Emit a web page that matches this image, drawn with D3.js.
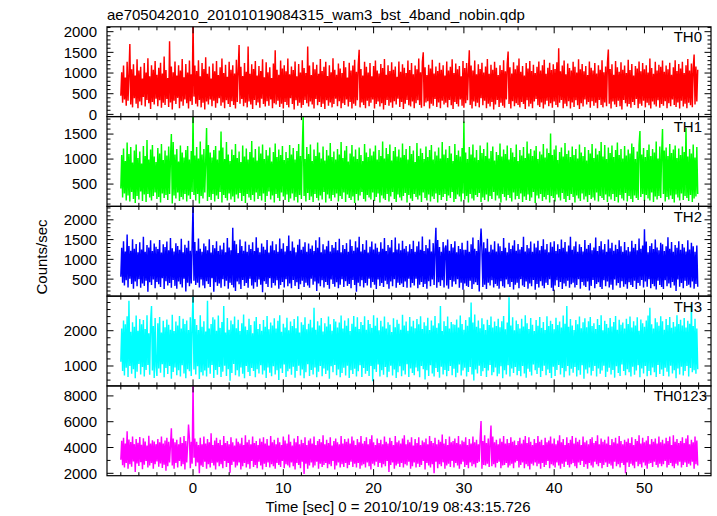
<!DOCTYPE html>
<html><head><meta charset="utf-8">
<script src="https://cdn.jsdelivr.net/npm/d3@7"></script>
<style>body{margin:0;background:#fff} svg{display:block} text{font-family:"Liberation Sans",Arial,Helvetica,sans-serif;fill:#000}</style>
</head><body><svg id="c" width="717" height="516"></svg>
<script>
// ---------------- data ----------------
const title = "ae705042010_20101019084315_wam3_bst_4band_nobin.qdp";
const xLabel = "Time [sec] 0 = 2010/10/19 08:43:15.726";
const yLabel = "Counts/sec";
const bandNames = ["TH0", "TH1", "TH2", "TH3", "TH0123"];
const tStart = -8, tStep = 0.1;           // time of first sample and sample spacing [sec]
const xTickMajor = [0, 10, 20, 30, 40, 50];
const yTickLabels = [
  [0, 500, 1000, 1500, 2000],
  [500, 1000, 1500],
  [500, 1000, 1500, 2000],
  [1000, 2000],
  [2000, 4000, 6000, 8000]
];
const yDomains = [[-53, 2118], [54, 1850], [70, 2340], [435, 2980], [1815, 8775]];
const yMinorStep = [100, 100, 100, 200, 1000];

const th0 = [
450,1020,280,1180,360,890,210,1270,330,960,1700,240,1090,170,1210,390,940,260,1330,150,
1060,310,1150,220,870,420,1240,190,1010,350,1360,270,920,130,1190,300,1080,240,1290,380,
960,200,1130,340,1250,160,990,280,1400,230,1070,370,880,180,1770,290,1160,120,1020,330,
1280,250,940,400,1190,150,1060,310,1340,210,900,360,1220,270,1010,140,1300,320,970,230,
2300,430,1180,260,1050,190,1310,350,920,170,1240,280,1100,120,1380,310,980,240,1160,360,
870,200,1230,330,1040,160,1290,270,950,390,1140,210,1350,290,1000,150,1200,340,910,250,
1270,180,1080,320,1190,230,990,140,1320,300,1060,1680,260,1150,370,930,200,1240,280,1030,
170,1640,310,980,240,1210,130,1100,350,1290,220,940,290,1170,160,1050,380,1330,250,900,
190,1260,320,1020,210,1140,360,880,150,1230,270,1550,240,1080,330,960,180,1300,260,1110,
140,1190,300,1040,230,1350,170,970,390,1160,250,1070,120,1280,340,920,210,1220,280,1010,
160,1310,230,1120,350,1000,270,1640,190,1180,310,950,240,1260,140,1090,370,1200,220,980,
300,1340,180,1050,260,1150,130,1270,340,930,210,1190,290,1020,170,1360,250,1080,380,960,
200,1230,320,1110,150,1000,270,1290,230,1140,360,890,190,1250,300,1060,140,1180,260,1320,
210,1030,340,1200,1560,170,1100,290,940,230,1270,150,1150,330,1010,200,1240,280,920,360,
1170,140,1300,250,1060,310,990,190,1220,270,1120,120,1340,230,960,350,1190,210,1050,290,
1260,160,1080,320,1160,240,910,380,1280,180,1030,300,1210,130,1130,260,1000,350,1300,220,
1070,190,1240,310,970,150,1180,270,1090,340,1350,230,1020,160,1270,1500,200,1140,290,950,
320,1200,140,1110,260,1320,210,990,370,1160,180,1050,290,1250,150,1080,330,1190,240,940,
280,1280,170,1060,350,1150,220,1330,130,1000,300,1230,250,1090,190,1170,360,920,210,1290,
160,1120,270,1240,340,1030,1550,230,1180,140,1060,310,1300,200,970,280,1210,170,1100,390,
1250,220,1010,330,1160,150,1340,260,980,190,1200,300,1080,120,1270,240,1130,350,950,180,
1190,280,1070,210,1310,160,1040,360,1220,1520,250,1140,140,990,320,1260,200,1090,270,1180,
230,1350,170,1030,300,1170,250,940,130,1240,340,1110,190,1290,260,1050,150,1200,310,1000,
370,1150,220,1280,180,1060,290,1190,140,1320,240,980,330,1130,200,1250,270,1070,160,1210,
310,1100,230,1260,170,1600,280,1040,350,1180,150,1300,260,970,200,1230,320,1120,140,1060,
290,1270,180,1150,340,1010,220,1330,130,1090,270,1220,190,1040,360,1170,240,950,300,1280,
160,1130,320,1060,210,1240,280,990,150,1190,350,1080,230,1310,170,1020,290,1160,200,1250,
1570,260,1100,140,1210,310,960,240,1290,180,1140,330,1030,200,1260,120,1080,350,1180,270,
1000,190,1320,250,1070,160,1220,300,940,230,1170,370,1110,150,1280,260,1040,210,1240,330,
1090,170,1190,280,1010,220,1350,140,1120,310,980,240,1270,190,1060,340,1200,160,1150,250,
1300,210,1030,320,1180,150,1090,270,1250,200,960,360,1140,230,1310,180,1050,290,1220,140,
1110,330,1270,190,1000,260,1190,150,1340,280,1060,220,1230,170,1120,1450,240,1160,310,1080
];
const th1 = [
410,1080,230,1210,310,960,170,1330,270,1100,150,1240,340,930,200,1170,120,1290,260,1020,
190,1150,350,910,160,1260,290,1060,140,1380,300,990,230,1190,170,1280,260,1050,330,940,
200,1220,240,1110,130,1300,310,980,220,1170,280,1070,180,1250,300,1010,1500,110,1340,270,
1090,210,1200,330,950,160,1270,240,1130,190,1030,300,1180,150,1260,270,990,200,1160,340,
1900,280,1070,170,1240,300,1010,110,1350,260,1090,210,1200,330,950,1620,160,1280,240,1130,
180,1030,300,1180,150,1260,270,990,200,1170,340,1550,130,1230,280,1000,220,1340,170,1090,
310,960,190,1190,250,1080,140,1300,290,1020,210,1150,320,940,160,1270,260,1050,120,1210,
300,990,230,1140,180,1360,280,1030,150,1200,330,970,200,1250,260,1110,170,1290,310,1000,
140,1180,260,1070,350,1230,190,950,270,1140,130,1310,300,1040,220,1190,160,1080,330,1260,
250,980,180,1140,290,1020,140,1280,210,1090,310,1220,170,990,240,1160,130,1300,280,1060,
200,1170,1880,260,1000,150,1240,320,1100,180,1290,250,960,140,1190,300,1060,220,1330,170,
1130,270,1010,190,1250,340,970,130,1180,290,1070,210,1320,160,1040,280,1150,230,990,310,
1200,150,1090,260,1340,200,1020,330,1170,140,1260,290,950,220,1110,180,1280,250,1050,120,
1190,300,1000,170,1230,270,1080,340,960,200,1300,150,1130,280,1040,230,1210,190,1070,330,
1150,160,1270,240,990,310,1180,130,1060,270,1350,210,1010,180,1220,300,1100,150,1290,250,
970,340,1160,200,1240,140,1050,290,1190,230,1030,170,1310,260,1080,320,1200,130,990,280,
1260,210,1100,160,1170,300,940,240,1320,190,1060,270,1210,140,1120,330,1000,220,1250,170,
1040,290,1180,150,1280,250,990,200,1150,310,1070,130,1230,280,1010,180,1340,240,1090,300,
1190,160,1020,270,1260,220,1110,340,960,140,1300,200,1080,290,1170,250,1050,150,1220,310,
1750,190,1130,260,1000,130,1240,300,1090,210,1290,170,1030,280,1180,240,980,320,1270,140,
1120,230,1200,180,1060,290,1330,150,1010,260,1160,200,1250,340,970,170,1140,270,1080,210,
1310,130,1050,300,1190,240,1100,170,1270,280,990,220,1220,150,1130,330,1040,190,1290,260,
960,200,1180,310,1070,140,1240,250,1020,180,1350,290,1110,160,1200,230,1060,340,1170,120,
1260,270,1000,210,1150,300,1090,160,1300,240,1030,190,1210,280,1120,130,1510,260,1080,220,
1190,150,1270,290,980,230,1140,170,1230,320,1050,200,1320,140,1100,260,1170,180,1040,300,
1250,240,1080,130,1200,270,1010,210,1290,160,1130,310,1060,190,1240,250,970,140,1180,280,
1110,200,1300,230,1020,170,1210,330,1090,150,1160,260,1340,220,1050,180,1280,290,1000,140,
1230,250,1120,190,1270,300,1040,160,1180,240,1330,130,1080,280,1200,210,1010,170,1260,320,
1070,150,1190,260,1110,200,1310,140,1240,270,1000,220,1150,180,1280,1560,240,1090,300,1220,
160,1040,280,1180,210,1290,170,1060,330,1200,140,1130,250,1350,190,1010,260,1250,220,1090,
1600,300,1170,150,1230,240,1060,190,1300,270,1120,200,1190,130,1270,290,1020,230,1210,170,
1080,310,1250,180,1140,260,1620,220,1050,160,1200,280,1110,140,1290,210,1030,250,1240,300
];
const th2 = [
560,1290,410,1460,340,1200,470,1630,290,1340,510,1220,380,1510,260,1270,440,1390,320,1180,
500,1430,280,1250,390,1570,330,1190,460,1360,180,1300,420,1480,350,1210,490,1400,270,1320,
430,1260,370,1490,300,1170,520,1380,250,1310,450,1450,340,1230,400,1540,280,1280,480,1200,
330,1410,260,1340,440,1240,370,1520,290,1180,510,1370,190,1290,410,1470,320,1220,390,1350,
2400,460,1440,350,1220,410,1530,290,1270,490,1190,340,1400,270,1330,450,1230,380,1510,300,
1170,520,1360,180,1280,420,1460,330,1210,390,1350,280,1250,500,1420,320,1180,460,1540,260,
1300,410,1230,350,1800,290,1470,200,1380,440,1160,370,1500,250,1340,480,1220,330,1450,400,
1190,280,1370,510,1260,340,1430,260,1210,420,1560,310,1290,490,1180,360,1400,170,1320,450,
1240,380,1490,300,1170,520,1350,280,1460,400,1230,340,1380,470,1190,260,1530,350,1270,430,
1410,290,1200,500,1340,320,1600,390,1220,270,1450,480,1300,330,1180,420,1370,250,1510,370,
1240,460,1320,300,1430,410,1190,340,1400,280,1270,510,1350,360,1210,440,1480,200,1290,390,
1560,320,1180,470,1380,290,1250,430,1330,350,1470,260,1200,490,1360,380,1290,310,1440,420,
1230,270,1520,360,1180,500,1360,300,1260,450,1410,330,1190,380,1500,270,1340,480,1220,350,
1460,180,1300,410,1570,320,1200,470,1390,290,1240,400,1480,340,1170,510,1320,280,1450,430,
1250,360,1400,250,1290,490,1190,330,1430,400,1270,300,1540,460,1210,370,1360,260,1300,440,
1490,320,1180,500,1550,280,1250,410,1400,350,1230,390,1470,300,1270,440,1340,280,1200,510,
1380,290,1260,400,1470,340,1190,510,1330,270,1450,360,1240,430,1580,300,1210,380,1360,260,
1280,450,1500,320,1200,490,1410,350,1250,1800,280,1490,420,1310,330,1190,470,1440,290,1270,
1350,340,1500,260,1220,480,1390,310,1300,440,1460,370,1180,500,1340,280,1260,410,1420,230,
1240,390,1240,330,1470,300,1190,460,1380,250,1550,370,1270,420,1210,350,1490,190,1310,1780,
1230,300,1430,360,1280,250,1520,410,1190,340,1370,470,1250,290,1460,380,1200,330,1400,260,
1330,450,1210,320,1540,280,1290,490,1180,370,1420,300,1260,430,1350,240,1480,360,1220,410,
1390,270,1250,500,1310,340,1570,300,1200,440,1360,260,1280,390,1450,320,1190,480,1400,230,
1300,380,1470,290,1230,450,1340,330,1510,270,1250,410,1390,350,1180,500,1430,280,1320,200,
1460,340,1210,470,1380,300,1260,430,1500,250,1290,390,1440,320,1200,460,1350,280,1570,370,
1240,410,1330,290,1450,350,1190,500,1380,260,1310,430,1200,340,1490,300,1270,440,1360,210,
1410,330,1230,480,1300,270,1550,380,1210,420,1340,300,1460,250,1250,470,1390,320,1190,440,
1500,290,1280,360,1420,230,1220,490,1370,340,1260,400,1480,280,1330,450,1190,310,1440,370,
1230,260,1310,420,1200,350,1470,300,1290,460,1390,250,1230,400,1530,330,1270,480,1350,290,
1760,440,1450,310,1180,500,1340,270,1410,380,1260,320,1500,240,1300,460,1230,350,1420,300,
1380,250,1210,470,1330,320,1560,390,1270,280,1440,430,1190,340,1360,200,1290,490,1460,310,
1240,400,1390,270,1300,460,1200,330,1480,360,1250,290,1420,440,1330,260,1190,380,1350,310
];
const th3 = [
1120,2060,860,2290,730,2180,950,2410,690,2850,1000,1970,780,2240,910,2110,650,2430,840,2000,
1060,2330,760,2180,970,2300,700,2050,890,2440,1030,1930,750,2270,2700,870,2130,660,2360,990,
720,2210,930,2390,810,1950,1050,2280,680,2100,940,2320,770,2170,1000,2030,640,2450,830,1990,
960,2260,740,2150,880,2420,700,2060,1020,2340,790,2190,650,2290,910,2020,850,2380,720,2120,
3050,900,2330,760,2160,990,2020,630,2440,820,2110,730,2270,870,1980,700,2850,950,2060,780,
2190,1030,2380,660,2320,890,2000,750,2430,970,2080,690,2250,840,2700,1010,1950,720,2360,910,
2030,580,2290,800,2180,1060,2400,740,2070,880,2310,700,1990,960,2210,780,2460,650,2120,1000,
2020,830,2340,720,2160,940,1930,860,2270,680,2390,910,2050,790,2190,1020,2000,760,2300,870,
2110,660,2420,960,2040,810,2230,710,2150,990,2350,760,2060,880,2280,600,2440,930,1970,800,
2200,1040,2090,690,2370,850,2010,920,2260,750,2130,980,2330,670,2070,860,2410,1010,1950,730,
2240,900,2170,650,2380,820,2040,1050,2200,720,2310,890,2090,760,2650,960,2030,680,2270,840,
2150,1000,2360,710,1980,930,2210,770,2120,870,2400,640,2180,990,2000,820,2330,1030,2260,740,
2090,900,2230,680,2430,800,2060,950,2290,730,2140,1010,2350,660,1990,880,2200,770,2420,920,
2110,700,2380,850,2050,1020,2250,690,2160,940,2410,780,2030,860,2300,720,2190,1000,2080,570,
2440,910,2140,830,2370,1040,2010,700,2280,880,2120,750,2400,970,2060,680,2240,840,2170,1010,
1960,730,2350,900,2100,660,2310,820,2200,990,2030,710,2450,870,2150,760,2260,1050,2000,690,
2390,930,2120,800,2280,740,2070,960,2330,850,2180,680,2410,1000,2050,910,2240,620,2140,880,
2370,720,2020,1020,2290,790,2150,700,2420,940,2080,830,2210,670,2700,980,1990,760,2270,890,
2130,710,2400,860,2060,1000,2250,740,2180,920,2170,680,2320,810,2090,1040,2430,730,2190,870,
2030,950,2300,700,2140,830,2380,970,2800,760,2230,590,2460,900,2110,790,2290,1010,2070,720,
2350,850,2180,940,2020,690,2310,870,2160,1030,2400,740,2090,820,2260,960,2130,710,2340,780,
2100,990,2270,650,2420,880,2040,760,2230,1020,2950,700,2150,930,2380,800,2010,970,2290,740,
2190,860,2060,710,2340,1000,2120,790,2440,670,2210,920,2050,840,2360,730,2170,1040,1990,880,
2300,770,2140,950,2390,690,2080,860,2250,1010,2020,740,2410,900,2130,800,2280,660,2190,980,
2040,720,2370,890,2160,1030,2260,760,2090,940,2430,680,2200,850,2700,1000,2110,730,2330,920,
2150,810,2020,970,2300,700,2180,880,2400,750,2070,1020,2240,640,2350,900,2100,790,2270,960,
2390,730,2130,860,2210,1000,2050,700,2330,930,2160,780,2440,870,2010,1010,2280,690,2190,840,
2080,950,2360,760,2120,890,2250,670,2420,990,2030,800,2310,720,2170,1040,2230,860,2060,740,
2340,910,2190,820,2400,700,2090,980,2270,750,2150,870,2380,1020,2000,680,2320,930,2210,790,
2110,1000,2290,710,2430,860,2650,740,2180,960,2060,820,2350,690,2240,1030,2140,770,2410,900,
2270,720,2030,950,2330,840,2160,700,2390,1010,2080,790,2250,880,2120,650,2440,930,2190,760,
2310,980,2150,730,2360,860,2090,1000,2280,700,2200,940,2750,820,2130,880,2340,780,2060,910
];
const th0123 = [
3050,4520,2620,4760,2460,4310,2810,5250,2360,4610,2710,4420,2510,4860,2910,4260,2100,4660,2760,4360,
2560,4810,2860,4210,2310,4710,2660,4460,2960,4160,2460,4910,2610,4310,2810,4560,2360,4460,2710,4260,
2910,4660,2510,4410,2760,4860,2410,4310,2660,4550,2200,4750,2550,4450,2850,4200,5500,2600,4700,2350,
4400,2800,4600,2450,4250,2950,4800,2550,4350,2700,4900,2300,4500,2850,4200,5780,4700,2400,4450,2750,
9000,3200,4700,2550,4450,2850,4200,2000,4750,2600,4250,2500,4850,2900,4300,2350,4650,2700,4400,2450,
5100,2800,4200,2600,4550,2300,4750,2850,4350,2550,4600,2700,4200,2400,4900,2950,4350,2500,4500,2800,
4250,2050,4800,2650,4400,2900,4150,2450,4700,2600,4450,2850,4300,2300,4750,2550,4200,2800,4950,2450,
4400,2700,4600,2350,4250,2950,4850,2500,4350,2650,4500,2400,4200,2900,4700,2600,4450,2300,4800,2750,
4300,2500,4650,2850,4150,2450,4900,2700,4400,2550,4600,2350,4250,2800,4750,2650,4400,2500,4200,2950,
4850,2400,4550,2700,4300,2600,5000,2450,4450,2850,4150,2550,4700,2300,4400,2800,4900,2650,4250,2400,
4600,2900,4350,1950,4800,2750,4200,2350,4550,2600,4700,2850,4300,2450,4850,2600,4200,2900,4500,2350,
4650,2750,4400,2500,4950,2650,4250,2800,4600,2400,4350,2700,4800,2550,4150,2950,4500,2300,4700,2600,
4400,2850,4250,2450,4900,2700,4300,2500,4650,2800,4450,2400,4700,2650,4300,2900,4850,2500,4550,2750,
4200,2450,4650,2800,4400,2350,4900,2600,4300,2700,4500,2450,4800,2850,4250,2550,4650,2300,4950,2750,
4400,2600,4200,2900,4700,2500,4350,2800,4600,2450,4250,2700,4850,2550,4450,2950,4300,2100,4750,2650,
4500,2850,4200,2350,4900,2600,4400,2750,4550,2500,4300,2800,4700,2450,4950,2700,4250,2600,4600,2900,
4400,2350,4800,2550,4150,2850,4650,2450,4350,2750,4800,2500,4200,2650,4550,2950,4400,2300,4700,2800,
4250,2600,4900,2450,4500,2700,4350,2000,4750,2900,4250,2400,4600,2700,4450,2550,5000,2850,4300,2350,
4650,2600,4200,2750,4850,2500,4400,2950,4500,2450,4700,2800,4350,2600,4900,2350,4250,2700,4550,2900,
4450,2500,4800,2650,4200,2400,4650,2850,4300,2550,4850,2700,4400,2450,4600,2800,4250,2900,4750,6050,
2350,4500,2650,4950,2600,4350,2750,4700,2500,4300,5700,2550,4850,2700,4400,2450,4600,2800,4250,2900,
4700,2400,4450,2600,4900,2650,4300,2800,4650,2450,4350,2600,4800,2750,4450,2400,4550,2850,4200,2950,
4500,2450,4750,2650,4300,2850,4600,2400,4900,2700,4350,2550,4800,2300,4450,2750,4200,2600,4650,2850,
4350,2550,4900,2750,4450,2350,4600,2800,4200,2500,4750,2650,4400,2950,4550,2400,4850,2700,4300,2600,
4700,2450,4250,2850,4550,2600,4950,2350,4400,2750,4650,2500,4200,2900,4800,2650,4350,2450,4600,2700,
4900,2800,4300,2550,4750,2400,4450,2850,4600,2650,4200,2950,4850,2500,4400,2700,4550,2350,4250,2800,
4650,2600,4800,2450,4350,2900,4500,2700,4950,2550,4250,2800,4700,2400,4450,2650,4600,2850,4300,2500,
4850,2750,4200,2600,4650,2350,4400,2900,4750,2550,4300,2700,4900,2450,4500,2800,4250,2650,4600,2000,
4450,2850,4700,2500,4350,2750,4800,2600,4200,2400,4650,2900,4500,2550,4950,2700,4300,2450,4750,2850,
4400,2600,4550,2350,4900,2750,4250,2800,4650,2500,4450,2900,4700,2650,4300,2450,4850,2750,4400,2550,
4600,2700,4300,2950,4750,2450,4500,2650,4850,2800,4200,2550,4950,2400,4450,2750,4650,2600,4350,2900,
4500,2450,4800,2650,4350,2850,4700,2500,4950,2750,4250,2600,4600,2900,4400,2350,4850,2700,4550,2600
];
const series = [th0, th1, th2, th3, th0123];
const bandColors = ["#ff0000", "#00ff00", "#0000ff", "#00ffff", "#ff00ff"];

// ---------------- layout ----------------
const left = 107, right = 711, plotTop = 26.8, plotBottom = 475.7;
const nP = series.length, pH = (plotBottom - plotTop) / nP;
const labelRight = [702, 702, 702, 702, 707];
const majorLen = 6.5, minorLen = 3.5;

const svg = d3.select("#c");
const x = d3.scaleLinear().domain([-9.53, 57.37]).range([left, right]);
const xMinor = d3.range(-8, 57, 2);

svg.append("text").attr("x", 107).attr("y", 20).attr("font-size", 15).text(title);

const defs = svg.append("defs");

series.forEach((vals, p) => {
  const top = plotTop + p * pH, bot = top + pH;
  const y = d3.scaleLinear().domain(yDomains[p]).range([bot, top]);
  const g = svg.append("g");

  defs.append("clipPath").attr("id", "clip" + p)
    .append("rect").attr("x", left).attr("y", top).attr("width", right - left).attr("height", pH);

  const line = d3.line().x((d, i) => x(tStart + i * tStep)).y(d => y(d));
  g.append("path").datum(vals)
    .attr("clip-path", "url(#clip" + p + ")")
    .attr("fill", "none").attr("stroke", bandColors[p]).attr("stroke-width", 1.45)
    .attr("stroke-linejoin", "bevel").attr("d", line);

  // frame
  g.append("rect").attr("x", left).attr("y", top).attr("width", right - left).attr("height", pH)
    .attr("fill", "none").attr("stroke", "#000").attr("stroke-width", 1.2);

  // x ticks (top and bottom, inward)
  xMinor.forEach(t => {
    const len = (t % 10 === 0) ? majorLen : minorLen;
    const xx = x(t);
    g.append("line").attr("x1", xx).attr("x2", xx).attr("y1", bot).attr("y2", bot - len).attr("stroke", "#000");
    g.append("line").attr("x1", xx).attr("x2", xx).attr("y1", top).attr("y2", top + len).attr("stroke", "#000");
  });

  // y ticks (left and right, inward)
  const [d0, d1] = yDomains[p];
  const step = yMinorStep[p];
  const majorStep = yTickLabels[p][1] - yTickLabels[p][0];
  for (let v = Math.ceil(d0 / step) * step; v <= d1; v += step) {
    const len = (Math.abs(v % majorStep) < 1e-6) ? majorLen : minorLen;
    const yy = y(v);
    g.append("line").attr("x1", left).attr("x2", left + len).attr("y1", yy).attr("y2", yy).attr("stroke", "#000");
    g.append("line").attr("x1", right).attr("x2", right - len).attr("y1", yy).attr("y2", yy).attr("stroke", "#000");
  }

  // y tick labels
  yTickLabels[p].forEach(v => {
    g.append("text").attr("x", 97).attr("y", y(v)).attr("dy", "0.36em")
      .attr("text-anchor", "end").attr("font-size", 15).text(v);
  });

  // band label
  g.append("text").attr("x", labelRight[p]).attr("y", top + 15.5)
    .attr("text-anchor", "end").attr("font-size", 15).text(bandNames[p]);
});

// x tick labels
xTickMajor.forEach(t => {
  svg.append("text").attr("x", x(t)).attr("y", 492.5).attr("text-anchor", "middle")
    .attr("font-size", 15).text(t);
});

svg.append("text").attr("x", 398).attr("y", 511.5).attr("text-anchor", "middle")
  .attr("font-size", 15).text(xLabel);

svg.append("text").attr("transform", "translate(46.5,257) rotate(-90)")
  .attr("text-anchor", "middle").attr("font-size", 15).text(yLabel);
</script>
</body></html>
